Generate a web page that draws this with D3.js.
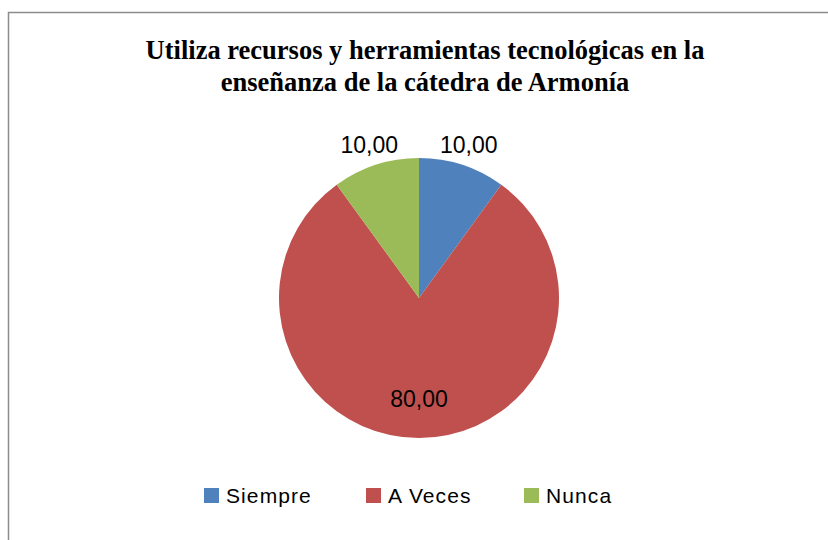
<!DOCTYPE html>
<html>
<head>
<meta charset="utf-8">
<script src="https://cdn.jsdelivr.net/npm/d3@7"></script>
<style>
  body { margin: 0; background: #fff; }
  svg { display: block; }
</style>
</head>
<body>
<div id="chart"></div>
<script>
const categories = ['Siempre', 'A Veces', 'Nunca'];
const values = [10, 80, 10];
const colors = ['#4F81BD', '#C0504D', '#9BBB59'];
const titleLines = ['Utiliza recursos y herramientas tecnológicas en la', 'enseñanza de la cátedra de Armonía'];

const width = 828, height = 540;
const cx = 419, cy = 298, radius = 140;

const svg = d3.select('#chart').append('svg')
  .attr('width', width)
  .attr('height', height);

// frame (only top and left edges are visible in the crop)
svg.append('path')
  .attr('d', `M8.5,${height} V12.5 H${width}`)
  .attr('fill', 'none')
  .attr('stroke', '#8c8c8c')
  .attr('stroke-width', 1.5);

svg.append('g')
  .selectAll('text')
  .data(titleLines)
  .join('text')
  .attr('x', 425)
  .attr('y', (d, i) => 59 + i * 32)
  .attr('text-anchor', 'middle')
  .style('font-family', '"Liberation Serif", "Times New Roman", serif')
  .style('font-weight', 'bold')
  .style('font-size', '26.5px')
  .text(d => d);

const data = categories.map((c, i) => ({ name: c, value: values[i], color: colors[i] }));
const total = d3.sum(values);

const pie = d3.pie().sort(null).value(d => d.value);
const arc = d3.arc().innerRadius(0).outerRadius(radius);
const arcs = pie(data);

const g = svg.append('g').attr('transform', `translate(${cx},${cy})`);

g.selectAll('path')
  .data(arcs)
  .join('path')
  .attr('d', arc)
  .attr('fill', d => d.data.color);

const inner = d3.arc().innerRadius(radius * 0.72).outerRadius(radius * 0.72);
const outer = d3.arc().innerRadius(radius * 1.15).outerRadius(radius * 1.15);

g.selectAll('text')
  .data(arcs)
  .join('text')
  .attr('transform', d => `translate(${(d.data.value / total < 0.15 ? outer : inner).centroid(d)})`)
  .attr('text-anchor', 'middle')
  .attr('dy', '0.36em')
  .style('font-family', '"Liberation Sans", Arial, sans-serif')
  .style('font-size', '23px')
  .style('fill', '#000')
  .text(d => d3.format('.2f')(d.data.value).replace('.', ','));

// legend
const legendX = d3.scaleOrdinal().domain(categories).range([204, 366, 524]);
const legend = svg.append('g')
  .selectAll('g')
  .data(data)
  .join('g')
  .attr('transform', d => `translate(${legendX(d.name)},488)`);

legend.append('rect')
  .attr('width', 15)
  .attr('height', 15)
  .attr('fill', d => d.color);

legend.append('text')
  .attr('x', 22)
  .attr('y', 15)
  .style('font-family', '"Liberation Sans", Arial, sans-serif')
  .style('font-size', '21px')
  .style('letter-spacing', '1.1px')
  .text(d => d.name);
</script>
</body>
</html>
